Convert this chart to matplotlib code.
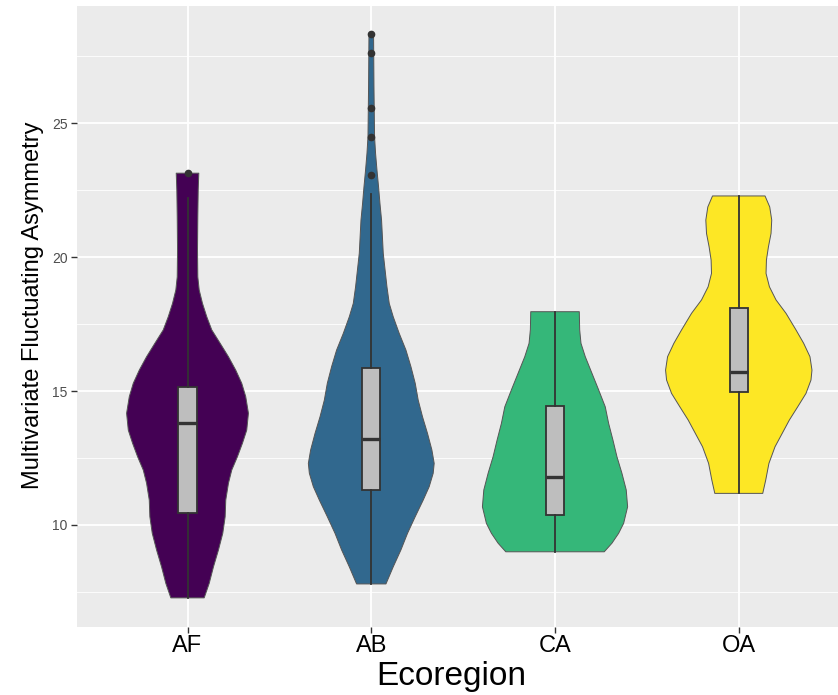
import matplotlib
matplotlib.use("Agg")
import matplotlib.pyplot as plt

# ecoregions and fill colours (viridis, 4 levels)
regions = ["AF", "AB", "CA", "OA"]
colors = ["#440154", "#31688E", "#35B779", "#FDE725"]

# violin outlines: asymmetry value -> half width (in pixels of a 184px category step)
af_y = [7.28, 7.82, 8.44, 9.07, 9.69, 10.31, 10.93, 11.56, 12.05, 12.55, 13.05, 13.54, 14.17,
        14.79, 15.29, 15.78, 16.28, 16.78, 17.28, 17.77, 18.27, 18.77, 19.26, 20.26, 21.50,
        22.50, 23.13]
af_w = [16.7, 21.7, 26, 31, 35.3, 37.7, 38.3, 41, 44.3, 50, 55, 59.3, 61,
        58.3, 54.3, 48.3, 41, 32.7, 24.3, 19.3, 15, 11.7, 10.3, 10, 10.3,
        10.7, 11.3]
ab_y = [7.80, 8.44, 9.07, 9.69, 10.31, 10.93, 11.43, 11.93, 12.30, 12.80, 13.42, 14.04, 14.66,
        15.29, 15.91, 16.53, 17.15, 17.77, 18.27, 18.89, 20.14, 21.38, 22.00, 22.62, 23.25,
        23.87, 24.49, 26.36, 28.32]
ab_w = [14.7, 22, 29.7, 36.3, 44, 52, 58, 62, 63, 60.7, 56.3, 51.3, 47,
        44, 39.7, 34.7, 28, 22, 18, 15.7, 12, 10.3, 8.7, 7.3, 5.7,
        4.3, 3.3, 2.7, 2.3]
ca_y = [9.00, 9.32, 9.69, 10.06, 10.68, 11.31, 11.93, 12.55, 13.17, 13.79, 14.41, 15.04,
        15.66, 16.28, 16.78, 17.28, 17.96]
ca_w = [49.3, 57, 63.7, 68.7, 72.7, 71.3, 67, 62, 58, 53.7, 50.3, 43.7,
        37, 30.3, 26, 24.7, 24.3]
oa_y = [11.18, 11.68, 12.30, 12.92, 13.42, 13.92, 14.41, 14.91, 15.41, 15.78, 16.28, 16.78,
        17.28, 17.90, 18.40, 18.89, 19.39, 19.89, 20.38, 20.88, 21.38, 21.87, 22.28]
oa_w = [24, 27, 30.2, 36.3, 43.5, 50.7, 59, 67.3, 72.3, 73.3, 71.3, 65,
        57.3, 47.3, 37.3, 30.7, 27.3, 27.7, 29.7, 32.3, 33, 31, 26.3]

# boxplot summaries
whislo = [7.28, 7.80, 9.00, 11.18]
q1 = [10.44, 11.31, 10.36, 14.96]
med = [13.80, 13.22, 11.79, 15.71]
q3 = [15.14, 15.85, 14.45, 18.11]
whishi = [22.19, 22.35, 17.96, 22.28]
fliers = [[23.13], [23.05, 24.48, 25.56, 27.61, 28.32], [], []]

profiles = [(af_y, af_w), (ab_y, ab_w), (ca_y, ca_w), (oa_y, oa_w)]

fig = plt.figure(figsize=(8.38, 6.95), dpi=100)
ax = fig.add_axes([0.0922, 0.0983, 0.9078, 0.8931])
ax.set_facecolor("#EBEBEB")

step = 184.0
for i, (ys, ws) in enumerate(profiles):
    x0 = i + 1
    hw = [w / step for w in ws]
    xs = [x0 + h for h in hw] + [x0 - h for h in hw[::-1]]
    yy = list(ys) + list(ys[::-1])
    ax.fill(xs, yy, facecolor=colors[i], edgecolor="#555555", linewidth=0.7,
            joinstyle="round", zorder=2)

stats = []
for i in range(4):
    stats.append(dict(whislo=whislo[i], q1=q1[i], med=med[i], q3=q3[i],
                      whishi=whishi[i], fliers=fliers[i]))

ax.bxp(stats, positions=[1, 2, 3, 4], widths=0.1, showcaps=False, patch_artist=True,
       boxprops=dict(facecolor="#BEBEBE", edgecolor="#333333", linewidth=1.3),
       medianprops=dict(color="#333333", linewidth=2.4),
       whiskerprops=dict(color="#333333", linewidth=1.3),
       flierprops=dict(marker="o", markerfacecolor="#333333", markeredgecolor="#333333",
                       markersize=4.5),
       zorder=3)

ax.set_xlim(0.4, 4.54)
ax.set_ylim(6.205, 29.37)
ax.set_xticks([1, 2, 3, 4])
ax.set_xticklabels(regions)
ax.set_yticks([10, 15, 20, 25])
ax.set_yticks([7.5, 12.5, 17.5, 22.5, 27.5], minor=True)
ax.grid(which="major", color="white", linewidth=1.3, zorder=0)
ax.grid(which="minor", axis="y", color="white", linewidth=0.6, zorder=0)
ax.set_axisbelow(True)
for s in ax.spines.values():
    s.set_visible(False)

ax.tick_params(axis="y", which="major", length=4, width=1, color="#333333",
               labelsize=10, labelcolor="#4D4D4D", pad=3)
ax.tick_params(axis="y", which="minor", length=0)
ax.tick_params(axis="x", length=4, width=1, color="#333333", labelsize=17, pad=2)
for lab in ax.get_xticklabels() + ax.get_yticklabels():
    lab.set_fontfamily("Liberation Sans")

ax.set_xlabel("Ecoregion", fontsize=24, fontfamily="Liberation Sans")
ax.set_ylabel("Multivariate Fluctuating Asymmetry", fontsize=17, fontfamily="Liberation Sans")
ax.xaxis.set_label_coords(0.491, -0.055)
ax.yaxis.set_label_coords(-0.0438, 0.518)

fig.savefig("out.png", dpi=100)
